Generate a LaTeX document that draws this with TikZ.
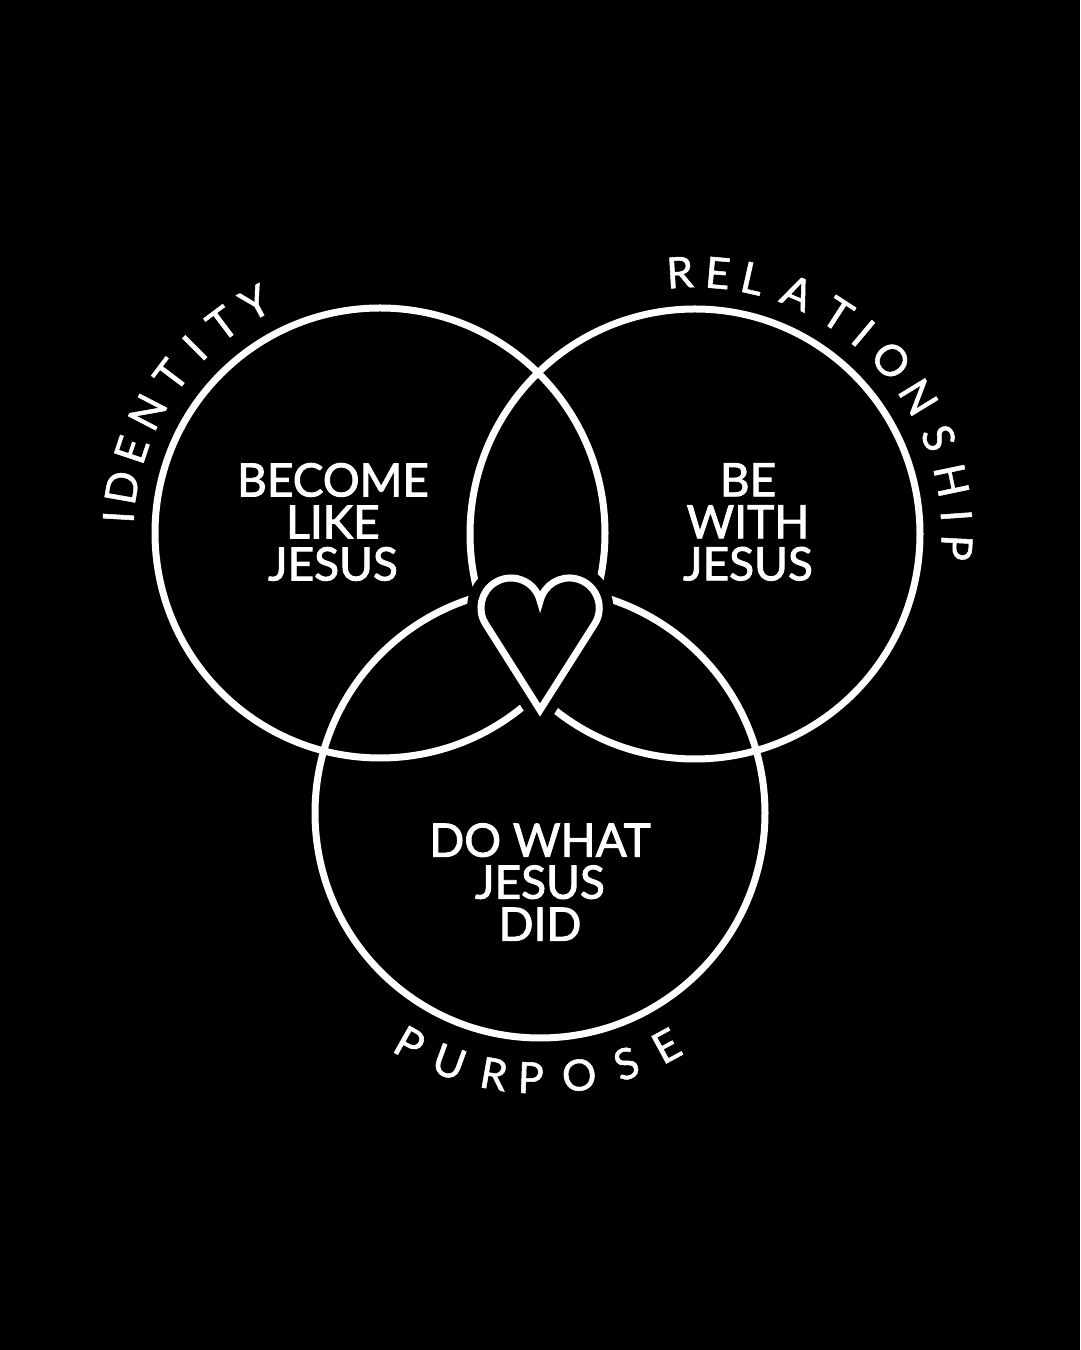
\documentclass[tikz,border=0pt]{standalone}
\usepackage{fontspec}
\setmainfont{Lato}
\newfontfamily\midfont[FakeBold=2]{Lato}
\newfontfamily\arcfont[FakeBold=1.2]{Lato}
\usetikzlibrary{positioning}
\tikzset{
  ring/.style={draw=white, line width=7pt},
  heartline/.style={draw=white, line width=7pt, line join=miter},
  intext/.style={text=white, align=center, inner sep=0pt,
    font=\midfont\fontsize{46}{42}\selectfont},
  arcletter/.style={text=white, inner sep=0pt,
    font=\arcfont\fontsize{43}{43}\selectfont}
}

\begin{document}
\begin{tikzpicture}[x=1pt,y=1pt]

             \fill[black] (0,0) rectangle (1080,1350);
             \useasboundingbox (0,0) rectangle (1080,1350);

             \coordinate (Cl) at (380,817);
             \coordinate (Cr) at (695,816);
             \coordinate (Cb) at (540,537);

             \draw [ring] (Cl) circle [radius=225];
             \draw [ring] (Cr) circle [radius=225];
             \draw [ring] (Cb) circle [radius=225];

             % heart, knocked out of the rings
             \draw [heartline, preaction={draw=black, fill=black, line width=28pt}]
               (540,640) -- (485.6,726)
               arc [start angle=212.3, end angle=13.6, radius=30]
               arc [start angle=166.4, end angle=-32.3, radius=30] -- cycle;

             \node [intext] (become) at (333,828) {BECOME\\LIKE\\JESUS};
             \node [intext] (bewith) at (748,828) {BE\\WITH\\JESUS};
             \node [intext] (dowhat) at (540,468) {DO WHAT\\JESUS\\DID};

             \foreach \ch/\a [count=\i] in {I/176.5, D/170, E/161.5, N/152.5,
                                            T/143, I/135, T/127, Y/118.5}
               \node [arcletter, rotate=\a-90] (id\i) at ([shift={(\a:262)}]Cl) {\ch};

             \foreach \ch/\a [count=\i] in {R/93.3, E/85, L/77.3, A/67, T/57,
                                            I/50, O/41.5, N/31.5, S/21.5,
                                            H/11.8, I/4, P/-3}
               \node [arcletter, rotate=\a-90] (rel\i) at ([shift={(\a:262)}]Cr) {\ch};

             \foreach \ch/\a [count=\i] in {P/240.5, U/250, R/260, P/268,
                                            O/278.5, S/289, E/298.5}
               \node [arcletter, rotate=\a+90] (pur\i) at ([shift={(\a:265)}]Cb) {\ch};
          \end{tikzpicture}
\end{document}
